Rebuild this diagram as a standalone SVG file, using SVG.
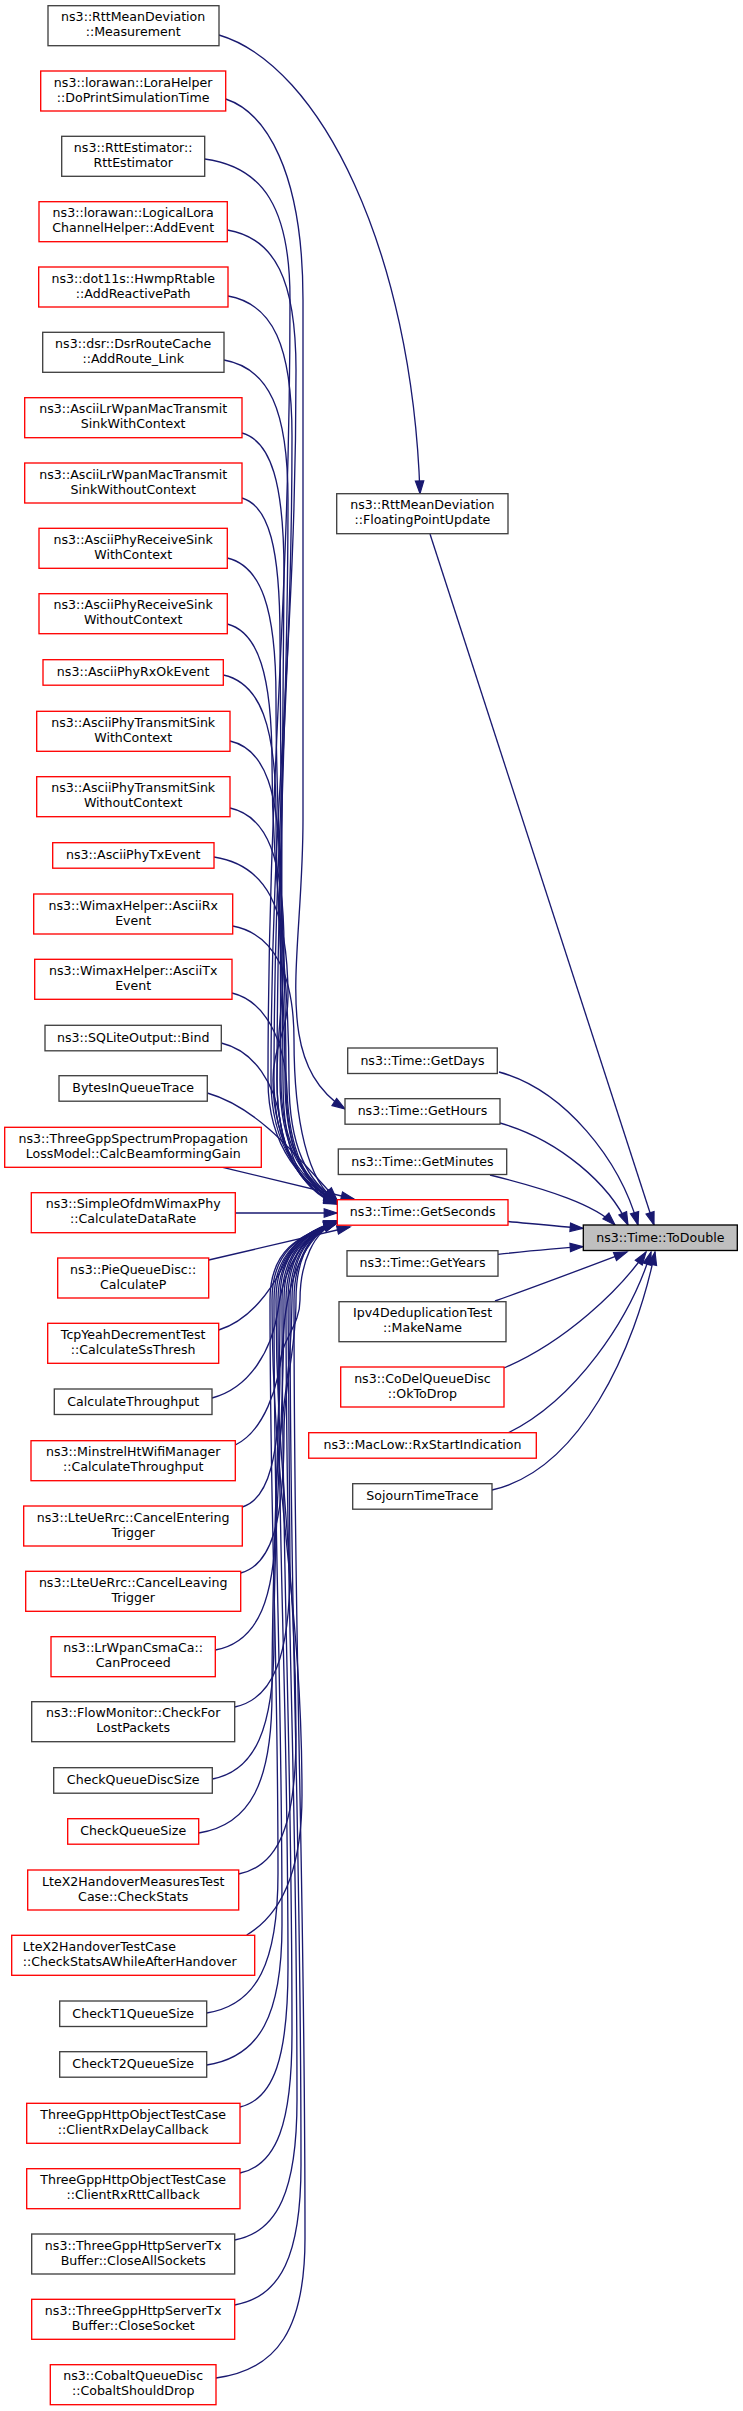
<svg xmlns="http://www.w3.org/2000/svg" width="743" height="2411" viewBox="0 0 743 2411">
<style>
rect{fill:#ffffff;stroke-width:1.33}
.k{stroke:#404040}
.r{stroke:#ff0000}
.root{fill:#bfbfbf;stroke:#000000}
text{font-family:"DejaVu Sans","Liberation Sans",sans-serif;font-size:12.6px;fill:#000000;text-anchor:middle}
text.l{text-anchor:start}
.e path{fill:none;stroke:#191970;stroke-width:1.33;marker-end:url(#arr)}
</style>
<defs>
<marker id="arr" viewBox="0 0 14 10" refX="13.3" refY="4.7" markerWidth="14" markerHeight="10" markerUnits="userSpaceOnUse" orient="auto" overflow="visible">
<path d="M0.5,0.5 L13.3,4.7 L0.5,8.9 Z" fill="#191970" stroke="#191970" stroke-width="1.2"/>
</marker>
</defs>
<rect x="0" y="0" width="743" height="2411" style="fill:#ffffff;stroke:none"/>
<g id="connectors" class="e">
<path d="M219,35 C320,65 412,250 420,493.7"/>
<path d="M225.7,99 C265,112 303,170 303,300 L303,820 C303,960 270,1060 345,1109"/>
<path d="M204.7,159 C264,167 290,209 290,299 C290,611 268,768 268,1080 C268,1150 305,1185 337,1202"/>
<path d="M227.3,230 C275,238 296,280 296,370 C296,654 271,796 271,1080 C271,1148 303,1184 337,1203"/>
<path d="M228,296 C273,304 292,346 292,436 C292,694 274,822 274,1080 C274,1150 302,1186 337,1201"/>
<path d="M224,360 C269,368 288,410 288,500 C288,732 277,848 277,1080 C277,1152 300,1188 337,1203"/>
<path d="M242,433 C271,441 284,483 284,573 C284,776 280,877 280,1080 C280,1152 306,1182 337,1200"/>
<path d="M242,498 C269,506 280,548 280,638 C280,815 283,903 283,1080 C283,1155 300,1190 337,1204"/>
<path d="M227.3,558 C261,566 276,608 276,698 C276,851 286,927 286,1080 C286,1150 303,1186 337,1202"/>
<path d="M227.3,624 C258,632 272,674 272,764 C272,890 289,954 289,1080 C289,1148 308,1182 337,1201"/>
<path d="M223.3,675 C260,683 276,725 276,815 C276,921 285,974 285,1080 C285,1150 305,1187 337,1203"/>
<path d="M230,741 C265,749 280,791 280,881 C280,961 281,1000 281,1080 C281,1146 306,1182 337,1200"/>
<path d="M230,808 C267,816 284,858 284,948 C284,1001 277,1027 277,1080 C277,1150 300,1188 337,1204"/>
<path d="M214,857 C266,865 288,907 288,997 C288,1030 273,1047 273,1080 C273,1148 306,1184 337,1202"/>
<path d="M232.7,926 C275,934 294,976 294,1040 C294,1120 308,1184 337,1201"/>
<path d="M232,993 C265,1001 285,1040 287,1090 C289,1150 305,1185 337,1202"/>
<path d="M221.3,1043 C255,1051 275,1085 280,1120 C285,1160 305,1190 337,1203"/>
<path d="M207.3,1093 C260,1108 300,1160 337,1200"/>
<path d="M222.7,1167.3 L354,1199"/>
<path d="M235.3,1213 L337,1213"/>
<path d="M208.7,1260 L350,1227"/>
<path d="M218.7,1330 C250,1320 272,1290 285,1262 C295,1240 312,1228 337,1222"/>
<path d="M212,1398 C250,1388 272,1350 278,1310 C284,1265 305,1232 337,1221"/>
<path d="M235.3,1445 C262,1432 280,1390 283,1340 C286,1280 305,1235 337,1222"/>
<path d="M242.3,1507 C268.7,1499 280,1457 280,1367 C280,1340 300,1327 300,1300 C300,1262 314,1231 337,1222"/>
<path d="M240.7,1573 C271,1565 284,1523 284,1433 C284,1380 296,1353 296,1300 C296,1258 310,1232 337,1221"/>
<path d="M215.3,1650 C258,1642 276,1600 276,1510 C276,1426 292,1384 292,1300 C292,1256 308,1233 337,1223"/>
<path d="M234.7,1707 C273,1699 290,1657 290,1567 C290,1460 288,1407 288,1300 C288,1256 306,1232 337,1222"/>
<path d="M212.3,1779 C255,1771 274,1729 274,1639 C274,1503 284,1436 284,1300 C284,1254 304,1235 337,1223"/>
<path d="M198.7,1833 C250,1825 272,1783 272,1693 C272,1536 280,1457 280,1300 C280,1252 302,1236 337,1222"/>
<path d="M238.7,1874 C279,1866 296,1824 296,1734 C296,1560 276,1474 276,1300 C276,1254 300,1234 337,1221"/>
<path d="M246.7,1935 C272,1920 302,1885 302,1795 C302,1597 272,1498 272,1300 C272,1252 298,1235 337,1222"/>
<path d="M206.7,2013 C257,2005 278,1963 278,1873 C278,1644 270,1529 270,1300 C270,1250 298,1236 337,1222"/>
<path d="M206.7,2065 C260,2057 282,2015 282,1925 C282,1675 274,1550 274,1300 C274,1254 300,1234 337,1223"/>
<path d="M240,2107 C274,2099 288,2057 288,1967 C288,1700 278,1567 278,1300 C278,1256 302,1233 337,1221"/>
<path d="M240,2173 C277,2165 292,2123 292,2033 C292,1740 282,1593 282,1300 C282,1256 304,1232 337,1222"/>
<path d="M234.7,2240 C278,2232 297,2190 297,2100 C297,1780 286,1620 286,1300 C286,1258 306,1232 337,1222"/>
<path d="M234.7,2305 C281,2297 301,2255 301,2165 C301,1819 290,1646 290,1300 C290,1258 308,1231 337,1221"/>
<path d="M216,2378 C278,2370 305,2328 305,2238 C305,1863 294,1675 294,1300 C294,1260 310,1231 337,1222"/>
<path d="M499,1072 C565,1090 620,1160 638,1225"/>
<path d="M500,1123 C560,1140 610,1185 628,1225"/>
<path d="M490,1175 C550,1190 595,1205 615,1225"/>
<path d="M430,534 L654,1225"/>
<path d="M508,1221.5 C535,1224 560,1226.5 583,1228.3"/>
<path d="M498,1254.3 C525,1251.5 555,1248.5 583,1246.7"/>
<path d="M495,1301 C540,1285 590,1266 627,1252"/>
<path d="M504,1368 C565,1342 620,1290 646,1252"/>
<path d="M508,1433 C575,1400 630,1320 651,1252"/>
<path d="M492,1490 C580,1470 635,1350 655,1252"/>
</g>
<g id="node1"><rect class="k" x="48" y="5.7" width="171" height="40"/><text x="133.2" y="21.4">ns3::RttMeanDeviation</text><text x="133.2" y="36.4">::Measurement</text></g>
<g id="node2"><rect class="r" x="40.7" y="71" width="185" height="40"/><text x="133.2" y="86.7">ns3::lorawan::LoraHelper</text><text x="133.2" y="101.7">::DoPrintSimulationTime</text></g>
<g id="node3"><rect class="k" x="61.7" y="136.3" width="143" height="40"/><text x="133.2" y="152">ns3::RttEstimator::</text><text x="133.2" y="167">RttEstimator</text></g>
<g id="node4"><rect class="r" x="39" y="201.7" width="188.3" height="40"/><text x="133.2" y="217.4">ns3::lorawan::LogicalLora</text><text x="133.2" y="232.4">ChannelHelper::AddEvent</text></g>
<g id="node5"><rect class="r" x="38.7" y="267" width="189.3" height="40"/><text x="133.2" y="282.7">ns3::dot11s::HwmpRtable</text><text x="133.2" y="297.7">::AddReactivePath</text></g>
<g id="node6"><rect class="k" x="42.7" y="332.3" width="181.3" height="40"/><text x="133.2" y="348">ns3::dsr::DsrRouteCache</text><text x="133.2" y="363">::AddRoute_Link</text></g>
<g id="node7"><rect class="r" x="24.7" y="397.7" width="217.3" height="40"/><text x="133.2" y="413.4">ns3::AsciiLrWpanMacTransmit</text><text x="133.2" y="428.4">SinkWithContext</text></g>
<g id="node8"><rect class="r" x="24.7" y="463" width="217.3" height="40"/><text x="133.2" y="478.7">ns3::AsciiLrWpanMacTransmit</text><text x="133.2" y="493.7">SinkWithoutContext</text></g>
<g id="node9"><rect class="r" x="39" y="528.3" width="188.3" height="40"/><text x="133.2" y="544">ns3::AsciiPhyReceiveSink</text><text x="133.2" y="559">WithContext</text></g>
<g id="node10"><rect class="r" x="39" y="593.7" width="188.3" height="40"/><text x="133.2" y="609.4">ns3::AsciiPhyReceiveSink</text><text x="133.2" y="624.4">WithoutContext</text></g>
<g id="node11"><rect class="r" x="43" y="659.7" width="180.3" height="25.5"/><text x="133.2" y="676.4">ns3::AsciiPhyRxOkEvent</text></g>
<g id="node12"><rect class="r" x="36.7" y="711.3" width="193.3" height="40"/><text x="133.2" y="727">ns3::AsciiPhyTransmitSink</text><text x="133.2" y="742">WithContext</text></g>
<g id="node13"><rect class="r" x="36.7" y="776.7" width="193.3" height="40"/><text x="133.2" y="792.4">ns3::AsciiPhyTransmitSink</text><text x="133.2" y="807.4">WithoutContext</text></g>
<g id="node14"><rect class="r" x="52.7" y="842.7" width="161.3" height="25.5"/><text x="133.2" y="859.4">ns3::AsciiPhyTxEvent</text></g>
<g id="node15"><rect class="r" x="33.7" y="894" width="199" height="40"/><text x="133.2" y="909.7">ns3::WimaxHelper::AsciiRx</text><text x="133.2" y="924.7">Event</text></g>
<g id="node16"><rect class="r" x="34.7" y="959.3" width="197.3" height="40"/><text x="133.2" y="975">ns3::WimaxHelper::AsciiTx</text><text x="133.2" y="990">Event</text></g>
<g id="node17"><rect class="k" x="45" y="1025.3" width="176.3" height="25.5"/><text x="133.2" y="1042">ns3::SQLiteOutput::Bind</text></g>
<g id="node18"><rect class="k" x="59" y="1075.7" width="148.3" height="25.5"/><text x="133.2" y="1092.4">BytesInQueueTrace</text></g>
<g id="node19"><rect class="r" x="4.7" y="1127.3" width="256.6" height="40"/><text x="133.2" y="1143">ns3::ThreeGppSpectrumPropagation</text><text x="133.2" y="1158">LossModel::CalcBeamformingGain</text></g>
<g id="node20"><rect class="r" x="31.3" y="1192.7" width="204" height="40"/><text x="133.2" y="1208.4">ns3::SimpleOfdmWimaxPhy</text><text x="133.2" y="1223.4">::CalculateDataRate</text></g>
<g id="node21"><rect class="r" x="57.7" y="1258" width="151" height="40"/><text x="133.2" y="1273.7">ns3::PieQueueDisc::</text><text x="133.2" y="1288.7">CalculateP</text></g>
<g id="node22"><rect class="r" x="47.7" y="1323.3" width="171" height="40"/><text x="133.2" y="1339">TcpYeahDecrementTest</text><text x="133.2" y="1354">::CalculateSsThresh</text></g>
<g id="node23"><rect class="k" x="54.3" y="1389" width="157.7" height="25.5"/><text x="133.2" y="1405.7">CalculateThroughput</text></g>
<g id="node24"><rect class="r" x="31" y="1440.7" width="204.3" height="40"/><text x="133.2" y="1456.4">ns3::MinstrelHtWifiManager</text><text x="133.2" y="1471.4">::CalculateThroughput</text></g>
<g id="node25"><rect class="r" x="23.7" y="1506" width="218.6" height="40"/><text x="133.2" y="1521.7">ns3::LteUeRrc::CancelEntering</text><text x="133.2" y="1536.7">Trigger</text></g>
<g id="node26"><rect class="r" x="25.7" y="1571.3" width="215" height="40"/><text x="133.2" y="1587">ns3::LteUeRrc::CancelLeaving</text><text x="133.2" y="1602">Trigger</text></g>
<g id="node27"><rect class="r" x="51" y="1636.7" width="164.3" height="40"/><text x="133.2" y="1652.4">ns3::LrWpanCsmaCa::</text><text x="133.2" y="1667.4">CanProceed</text></g>
<g id="node28"><rect class="k" x="31.7" y="1701.7" width="203" height="40"/><text x="133.2" y="1717.4">ns3::FlowMonitor::CheckFor</text><text x="133.2" y="1732.4">LostPackets</text></g>
<g id="node29"><rect class="k" x="53.7" y="1767.7" width="158.6" height="25.5"/><text x="133.2" y="1784.4">CheckQueueDiscSize</text></g>
<g id="node30"><rect class="r" x="67.7" y="1818.7" width="131" height="25.5"/><text x="133.2" y="1835.4">CheckQueueSize</text></g>
<g id="node31"><rect class="r" x="27.7" y="1870" width="211" height="40"/><text x="133.2" y="1885.7">LteX2HandoverMeasuresTest</text><text x="133.2" y="1900.7">Case::CheckStats</text></g>
<g id="node32"><rect class="r" x="11.7" y="1935.3" width="243" height="40"/><text class="l" x="22.7" y="1951">LteX2HandoverTestCase</text><text class="l" x="22.7" y="1966">::CheckStatsAWhileAfterHandover</text></g>
<g id="node33"><rect class="k" x="59.7" y="2001" width="147" height="25.5"/><text x="133.2" y="2017.7">CheckT1QueueSize</text></g>
<g id="node34"><rect class="k" x="59.7" y="2051.7" width="147" height="25.5"/><text x="133.2" y="2068.4">CheckT2QueueSize</text></g>
<g id="node35"><rect class="r" x="26.7" y="2103.3" width="213.3" height="40"/><text x="133.2" y="2119">ThreeGppHttpObjectTestCase</text><text x="133.2" y="2134">::ClientRxDelayCallback</text></g>
<g id="node36"><rect class="r" x="26.7" y="2168.7" width="213.3" height="40"/><text x="133.2" y="2184.4">ThreeGppHttpObjectTestCase</text><text x="133.2" y="2199.4">::ClientRxRttCallback</text></g>
<g id="node37"><rect class="k" x="31.7" y="2234" width="203" height="40"/><text x="133.2" y="2249.7">ns3::ThreeGppHttpServerTx</text><text x="133.2" y="2264.7">Buffer::CloseAllSockets</text></g>
<g id="node38"><rect class="r" x="31.7" y="2299.3" width="203" height="40"/><text x="133.2" y="2315">ns3::ThreeGppHttpServerTx</text><text x="133.2" y="2330">Buffer::CloseSocket</text></g>
<g id="node39"><rect class="r" x="50.3" y="2364.7" width="165.7" height="40"/><text x="133.2" y="2380.4">ns3::CobaltQueueDisc</text><text x="133.2" y="2395.4">::CobaltShouldDrop</text></g>
<g id="node40"><rect class="k" x="336.7" y="493.7" width="171.3" height="40"/><text x="422.4" y="509.4">ns3::RttMeanDeviation</text><text x="422.4" y="524.4">::FloatingPointUpdate</text></g>
<g id="node41"><rect class="k" x="347.7" y="1048" width="149.6" height="25.5"/><text x="422.5" y="1064.7">ns3::Time::GetDays</text></g>
<g id="node42"><rect class="k" x="345" y="1098.7" width="155" height="25.5"/><text x="422.5" y="1115.4">ns3::Time::GetHours</text></g>
<g id="node43"><rect class="k" x="338.3" y="1149" width="168.4" height="25.5"/><text x="422.5" y="1165.7">ns3::Time::GetMinutes</text></g>
<g id="node44"><rect class="r" x="337.3" y="1199.7" width="170.7" height="25.5"/><text x="422.7" y="1216.4">ns3::Time::GetSeconds</text></g>
<g id="node45"><rect class="k" x="347" y="1250.7" width="151" height="25.5"/><text x="422.5" y="1267.4">ns3::Time::GetYears</text></g>
<g id="node46"><rect class="k" x="339" y="1301.7" width="167" height="40"/><text x="422.5" y="1317.4">Ipv4DeduplicationTest</text><text x="422.5" y="1332.4">::MakeName</text></g>
<g id="node47"><rect class="r" x="340.7" y="1367" width="163.3" height="40"/><text x="422.4" y="1382.7">ns3::CoDelQueueDisc</text><text x="422.4" y="1397.7">::OkToDrop</text></g>
<g id="node48"><rect class="r" x="308.7" y="1432.7" width="227.6" height="25.5"/><text x="422.5" y="1449.4">ns3::MacLow::RxStartIndication</text></g>
<g id="node49"><rect class="k" x="352.7" y="1483.7" width="139.3" height="25.5"/><text x="422.4" y="1500.4">SojournTimeTrace</text></g>
<g id="node50"><rect class="root" x="583.3" y="1225" width="154" height="25.5"/><text x="660.3" y="1241.7">ns3::Time::ToDouble</text></g>
</svg>
